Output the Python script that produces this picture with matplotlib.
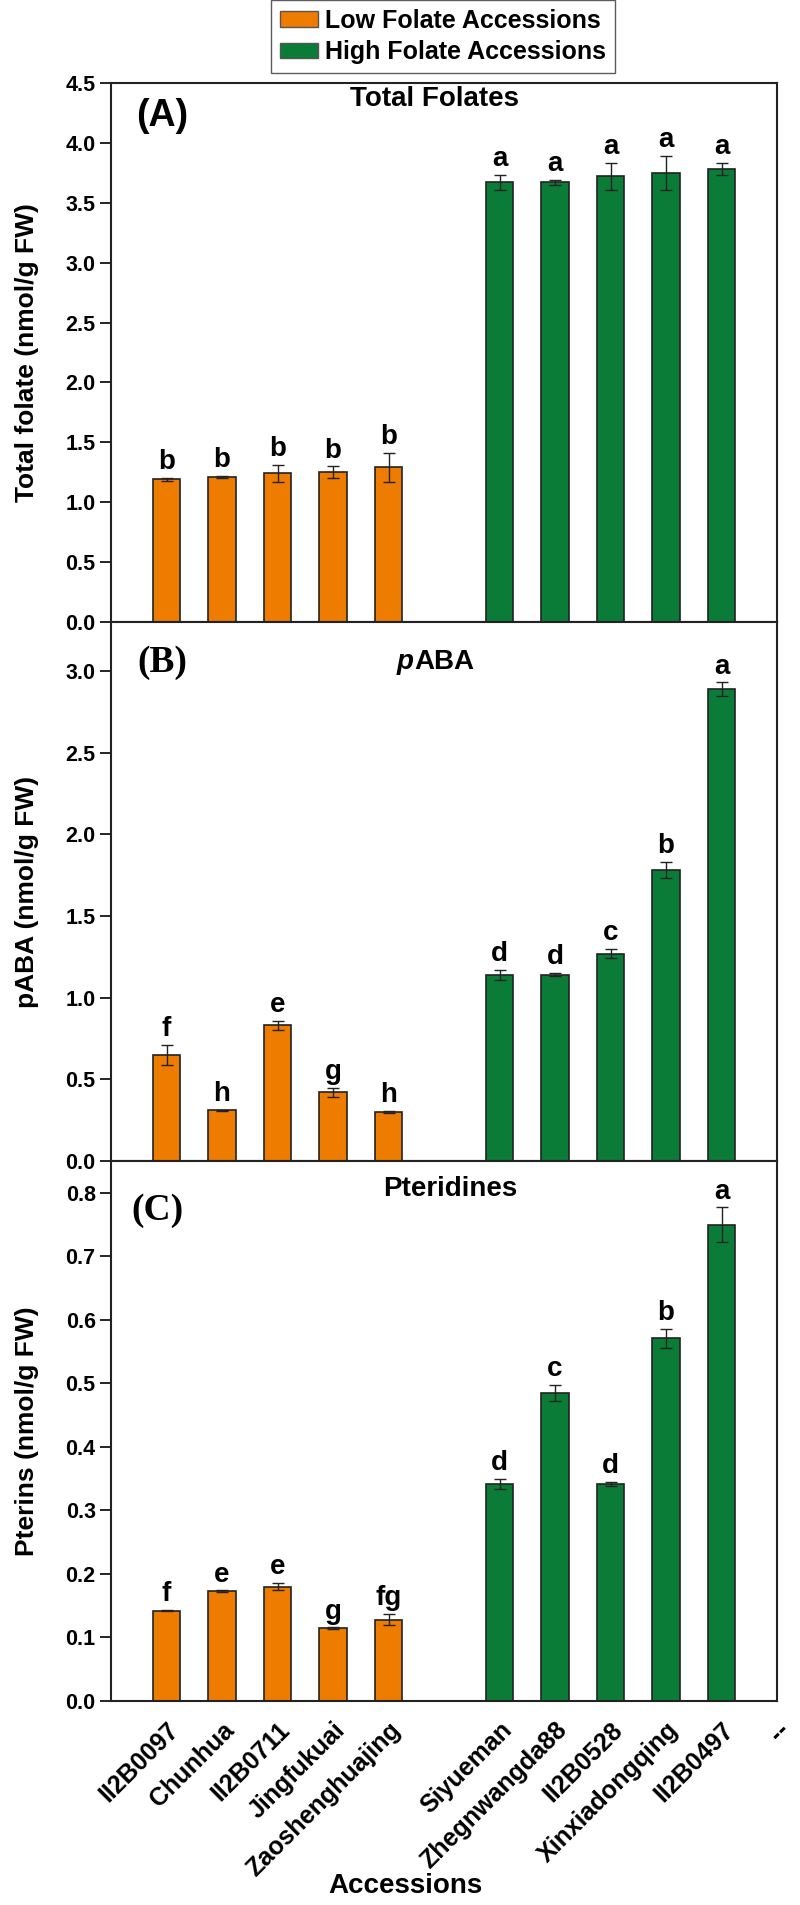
import matplotlib
matplotlib.use("Agg")
import matplotlib.pyplot as plt
from matplotlib.patches import Patch
from matplotlib import font_manager
import numpy as np

plt.rcParams['font.family'] = ['Liberation Sans', 'DejaVu Sans']
plt.rcParams['font.weight'] = 'bold'

accessions = ["II2B0097", "Chunhua", "II2B0711", "Jingfukuai", "Zaoshenghuajing",
              "Siyueman", "Zhegnwangda88", "II2B0528", "Xinxiadongqing", "II2B0497"]
groups = ["low"] * 5 + ["high"] * 5
positions = [0, 1, 2, 3, 4, 6, 7, 8, 9, 10]
extra_tick_pos = 11
extra_tick_label = "--"

total_folate = [1.19, 1.21, 1.24, 1.25, 1.29, 3.67, 3.67, 3.72, 3.75, 3.78]
total_folate_err = [0.01, 0.01, 0.07, 0.05, 0.12, 0.06, 0.02, 0.11, 0.14, 0.05]
total_folate_let = ["b", "b", "b", "b", "b", "a", "a", "a", "a", "a"]

paba = [0.65, 0.31, 0.83, 0.42, 0.30, 1.14, 1.14, 1.27, 1.78, 2.89]
paba_err = [0.06, 0.005, 0.03, 0.03, 0.005, 0.03, 0.01, 0.03, 0.05, 0.04]
paba_let = ["f", "h", "e", "g", "h", "d", "d", "c", "b", "a"]

pterins = [0.142, 0.173, 0.180, 0.115, 0.128, 0.342, 0.485, 0.342, 0.571, 0.750]
pterins_err = [0.001, 0.001, 0.006, 0.001, 0.009, 0.008, 0.012, 0.003, 0.015, 0.027]
pterins_let = ["f", "e", "e", "g", "fg", "d", "c", "d", "b", "a"]

legend_labels = ["Low Folate Accessions", "High Folate Accessions"]
colors = {"low": "#EE7C00", "high": "#0B7C38"}

# pick a condensed face for the legend when available
try:
    font_manager.findfont(font_manager.FontProperties(family="Liberation Sans Narrow"),
                          fallback_to_default=False)
    legend_family, legend_size = "Liberation Sans Narrow", 21
except Exception:
    legend_family, legend_size = "Liberation Sans", 18

W, H = 800, 1905
fig = plt.figure(figsize=(W / 100, H / 100), dpi=100)

def px_axes(top, bottom, left=111, right=777):
    return fig.add_axes([left / W, (H - bottom) / H, (right - left) / W, (bottom - top) / H])

axA = px_axes(83, 622)
axB = px_axes(622, 1161)
axC = px_axes(1161, 1701)

panels = [
    (axA, total_folate, total_folate_err, total_folate_let, 4.5, np.arange(0, 4.51, 0.5),
     "Total folate (nmol/g FW)"),
    (axB, paba, paba_err, paba_let, 3.3, np.arange(0, 3.01, 0.5), "pABA (nmol/g FW)"),
    (axC, pterins, pterins_err, pterins_let, 0.85, np.arange(0, 0.81, 0.1),
     "Pterins (nmol/g FW)"),
]

bar_colors = [colors[g] for g in groups]
for ax, vals, errs, lets, ymax, yticks, ylabel in panels:
    ax.bar(positions, vals, width=0.5, color=bar_colors, edgecolor="#222222",
           linewidth=1.2, zorder=2)
    ax.errorbar(positions, vals, yerr=errs, fmt="none", ecolor="#222222",
                elinewidth=1.0, capsize=4, capthick=1.0, zorder=3)
    for p, v, e, l in zip(positions, vals, errs, lets):
        ax.annotate(l, (p, v + e), xytext=(0, 2), textcoords="offset points",
                    ha="center", va="bottom", fontsize=20, fontweight="bold")
    ax.set_xlim(-1, 11)
    ax.set_ylim(0, ymax)
    ax.set_yticks(yticks)
    ax.set_yticklabels([f"{t:.1f}" for t in yticks], fontsize=15.5, fontweight="bold")
    ax.tick_params(axis="y", direction="out", length=8, width=1.2, pad=3)
    ax.set_ylabel(ylabel, fontsize=19, fontweight="bold")
    ax.yaxis.set_label_coords(-0.108, 0.5)
    for s in ax.spines.values():
        s.set_linewidth(1.5)
        s.set_color("#222222")
    if ax is not axC:
        ax.set_xticks([])

axC.set_xticks(positions + [extra_tick_pos])
axC.set_xticklabels(accessions + [extra_tick_label], rotation=45, ha="right",
                    rotation_mode="anchor", fontsize=18, fontweight="bold")
axC.tick_params(axis="x", length=0, pad=12)

# panel letters and titles
axA.text(0.077, 0.939, "(A)", transform=axA.transAxes, ha="center", va="center",
         fontsize=27, fontweight="bold", family=["Liberation Sans", "DejaVu Sans"])
axB.text(0.077, 0.924, "(B)", transform=axB.transAxes, ha="center", va="center",
         fontsize=27, fontweight="bold", family=["Liberation Serif", "DejaVu Serif"])
axC.text(0.069, 0.909, "(C)", transform=axC.transAxes, ha="center", va="center",
         fontsize=27, fontweight="bold", family=["Liberation Serif", "DejaVu Serif"])

axA.text(0.485, 0.970, "Total Folates", transform=axA.transAxes, ha="center",
         va="center", fontsize=20, fontweight="bold")
axB.text(0.455, 0.926, "p", transform=axB.transAxes, ha="right", va="center",
         fontsize=20, fontweight="bold", style="italic")
axB.text(0.455, 0.926, "ABA", transform=axB.transAxes, ha="left", va="center",
         fontsize=20, fontweight="bold")
axC.text(0.509, 0.948, "Pteridines", transform=axC.transAxes, ha="center",
         va="center", fontsize=20, fontweight="bold")

fig.text(405 / W, 1 - 1886 / H, "Accessions", ha="center", va="center",
         fontsize=20, fontweight="bold")

handles = [Patch(facecolor=colors["low"], edgecolor="#555555"),
           Patch(facecolor=colors["high"], edgecolor="#555555")]
leg = fig.legend(handles, legend_labels, loc="upper center",
                 bbox_to_anchor=(443 / W, 1.0), frameon=True,
                 prop={"family": legend_family, "size": legend_size, "weight": "bold"},
                 fancybox=False, edgecolor="#333333", handlelength=1.5,
                 handleheight=0.6, handletextpad=0.3, labelspacing=0.3,
                 borderpad=0.35, borderaxespad=0.0)
leg.get_frame().set_linewidth(1.0)

fig.savefig("out.png", dpi=100)
